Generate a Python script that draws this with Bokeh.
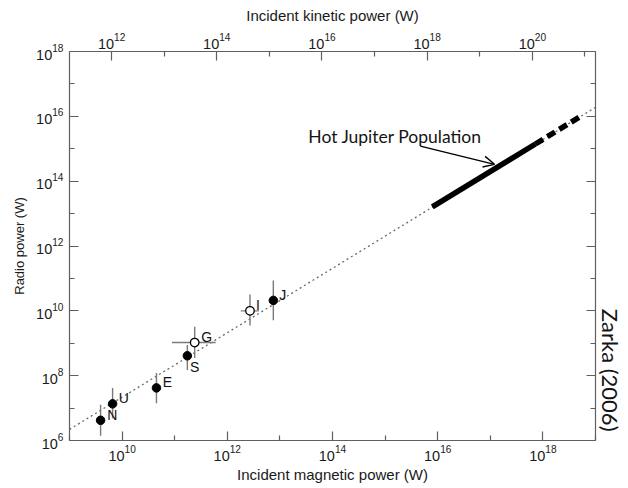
import math
from bokeh.plotting import figure
from bokeh.models import (LogAxis, Range1d, LogScale, FixedTicker, ColumnDataSource,
                          Label, Arrow, OpenHead, Title)
from bokeh.core.properties import value
from bokeh.embed import file_html
from bokeh.resources import INLINE

# ---- data ----
planets = ["N", "U", "E", "S", "G", "I", "J"]
mag_power = [3.9e9, 6.6e9, 4.5e10, 1.74e11, 2.4e11, 2.7e12, 7.5e12]
radio_power = [4.2e6, 1.35e7, 4.2e7, 4.1e8, 1.05e9, 1.0e10, 2.1e10]
radio_lo = [1.4e6, 4.9e6, 1.4e7, 1.5e8, 3.5e8, 3.5e9, 5.1e9]
radio_hi = [1.26e7, 4.2e7, 1.2e8, 8.9e8, 3.2e9, 3.2e10, 8.7e10]
open_marker = [False, False, False, False, True, True, False]
xerr_planets = ["G", "I"]
xerr_center_y = [1.05e9, 1.0e10]
xerr_lo = [8.9e10, 1.8e12]
xerr_hi = [6.0e11, 4.0e12]

fit_x = [1e9, 1e19]
fit_y = [2.2e6, 1.9e16]

hj_solid_x = [7.9e15, 7.2e17]
hj_solid_y = [1.6e13, 1.4e15]
hj_dash_x = [7.2e17, 5.6e18]
hj_dash_y = [1.4e15, 1.07e16]

x_range_mag = (1e9, 1e19)
x_range_kin = (10 ** 11.2, 10 ** 21.2)
y_range = (1e6, 1e18)

# label pixel offsets (style)
label_dx = [11.7, 11.3, 11.0, 7.3, 12.0, 8.0, 9.4]
label_dy = [-5.7, -6.3, -5.6, 10.7, -6.0, -5.7, -5.7]

FONT = "Liberation Sans"
AX = "#5f5f5f"

p = figure(width=628, height=488, x_axis_type="log", y_axis_type="log",
           x_range=Range1d(*x_range_mag), y_range=Range1d(*y_range),
           output_backend="svg", toolbar_location=None,
           min_border_left=69, min_border_right=33, min_border_top=51, min_border_bottom=48,
           background_fill_color="white", border_fill_color="white")
p.grid.visible = False
p.outline_line_color = None

p.extra_x_ranges = {"kin": Range1d(*x_range_kin)}
p.extra_x_scales = {"kin": LogScale()}


def even_odd(lo, hi):
    majors = [10.0 ** e for e in range(lo, hi + 1) if e % 2 == 0]
    minors = [10.0 ** e for e in range(lo, hi + 1) if e % 2 != 0]
    return FixedTicker(ticks=majors, minor_ticks=minors)


def style(ax, labels=True):
    ax.axis_line_color = AX
    ax.axis_line_width = 1.2
    ax.major_tick_line_color = AX
    ax.minor_tick_line_color = AX
    ax.major_tick_in = 9
    ax.major_tick_out = 0
    ax.minor_tick_in = 5
    ax.minor_tick_out = 0
    ax.major_tick_line_width = 1.2
    ax.minor_tick_line_width = 1.2
    ax.major_label_text_font = FONT
    ax.major_label_text_font_size = "14.5px" if labels else "1px"
    ax.major_label_text_color = "#1a1a1a"
    if not labels:
        ax.major_label_text_alpha = 0.0
    ax.axis_label_text_font = FONT
    ax.axis_label_text_font_style = "normal"
    ax.axis_label_text_color = "#1a1a1a"


bx = p.xaxis[0]
bx.ticker = even_odd(9, 19)
bx.axis_label = "Incident magnetic power (W)"
style(bx)
bx.axis_label_text_font_size = "15px"
bx.major_label_standoff = 4
bx.axis_label_standoff = 2

ly = p.yaxis[0]
ly.ticker = even_odd(6, 18)
ly.axis_label = "Radio power (W)"
style(ly)
ly.axis_label_text_font_size = "13px"
ly.major_label_standoff = 6
ly.axis_label_standoff = 6

top = LogAxis(x_range_name="kin", ticker=even_odd(11, 21), axis_label="Incident kinetic power (W)")
style(top)
top.axis_label_text_font_size = "15px"
top.major_label_standoff = 3
top.axis_label_standoff = 6
p.add_layout(top, "above")

right = LogAxis(ticker=even_odd(6, 18))
style(right, labels=False)
right.major_label_standoff = 0
p.add_layout(right, "right")

# citation on the right side
p.add_layout(Title(text="Zarka (2006)", align="right", offset=9, standoff=0,
                   text_font="Lato", text_font_size="22px", text_font_style="normal",
                   text_color="#141414", vertical_align="middle"), "right")

# ---- fit line ----
p.line(fit_x, fit_y, line_color="#6a6a6a", line_width=1.3, line_dash="2 3")

# ---- hot Jupiter population ----
p.line(hj_solid_x, hj_solid_y, line_color="black", line_width=5.5)
p.line(hj_dash_x, hj_dash_y, line_color="black", line_width=5.5, line_dash="9 5")

# ---- error bars ----
src = ColumnDataSource(dict(x=mag_power, y=radio_power, lo=radio_lo, hi=radio_hi,
                            name=planets, dx=label_dx, dy=label_dy))
p.segment(x0="x", y0="lo", x1="x", y1="hi", source=src, line_color="#7a7a7a", line_width=1.4)
p.segment(x0=xerr_lo, y0=xerr_center_y, x1=xerr_hi, y1=xerr_center_y,
          line_color="#7a7a7a", line_width=1.4)

# ---- markers ----
fx = [x for x, o in zip(mag_power, open_marker) if not o]
fy = [y for y, o in zip(radio_power, open_marker) if not o]
ox = [x for x, o in zip(mag_power, open_marker) if o]
oy = [y for y, o in zip(radio_power, open_marker) if o]
p.scatter(fx, fy, size=8.5, fill_color="black", line_color="black")
p.scatter(ox, oy, size=8.5, fill_color="white", line_color="black", line_width=1.3)

p.text(x="x", y="y", text="name", source=src, x_offset="dx", y_offset="dy",
       text_font=value(FONT), text_font_size="14px", text_color="#111111",
       text_align="center", text_baseline="middle")

# ---- annotation ----
p.add_layout(Label(x=10 ** 13.54, y=10 ** 15.38, text="Hot Jupiter Population",
                   text_font="Lato", text_font_size="17.5px", text_color="#141414",
                   text_align="left", text_baseline="alphabetic"))
p.add_layout(Arrow(end=OpenHead(size=11, line_width=1.4, line_color="black"),
                   x_start=10 ** 15.67, y_start=10 ** 15.08,
                   x_end=10 ** 17.08, y_end=10 ** 14.52,
                   line_width=1.4, line_color="black"))

open("out.html", "w").write(file_html(p, INLINE))
